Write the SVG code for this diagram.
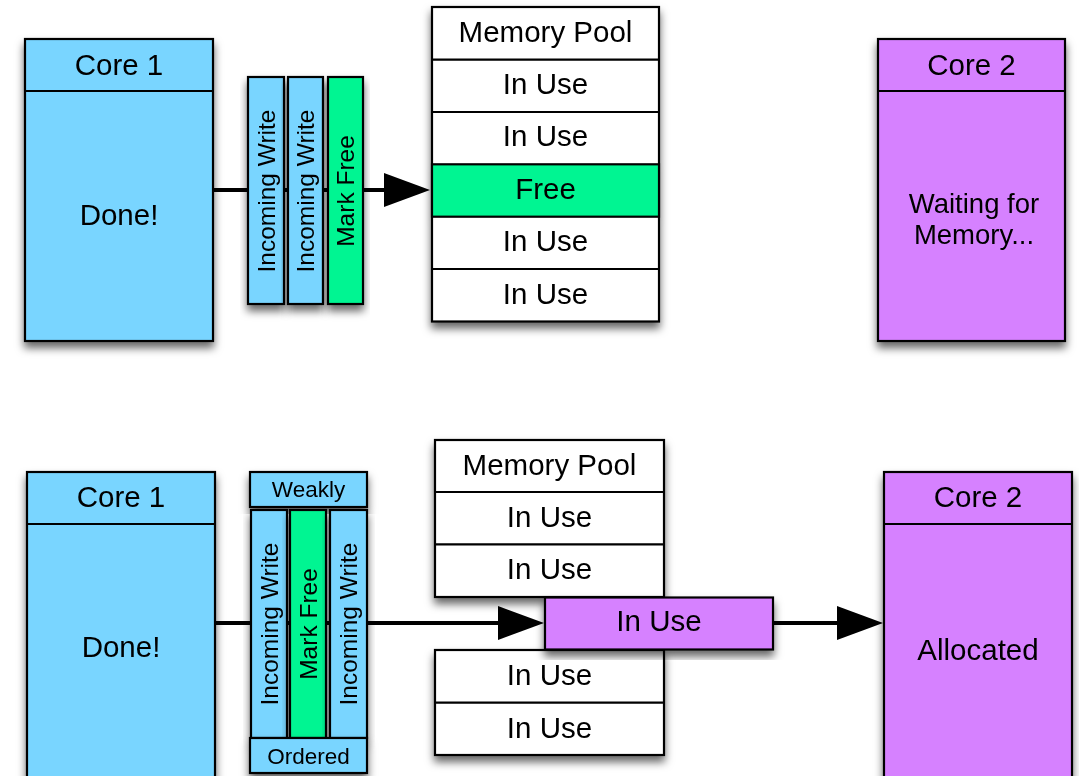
<svg xmlns="http://www.w3.org/2000/svg" width="1079" height="776" viewBox="0 0 1079 776">
  <defs>
    <filter id="shadow" x="-20%" y="-20%" width="140%" height="140%">
      <feDropShadow dx="0" dy="6" stdDeviation="4.5" flood-color="#000" flood-opacity="0.6"/>
    </filter>
    <marker id="arrow" markerUnits="userSpaceOnUse" markerWidth="48" markerHeight="36" refX="0" refY="17" orient="auto">
      <path d="M0,0 L46,17 L0,34 Z" fill="#000"/>
    </marker>
  </defs>
  <style>
    text { font-family: "Liberation Sans", Arial, Helvetica, sans-serif; fill: #000; text-anchor: middle; }
    .big { font-size: 29.5px; }
    .wrap { font-size: 27.5px; }
    .mid { font-size: 24.5px; }
    .small { font-size: 22.5px; }
    .box { stroke: #000; stroke-width: 2.2; }
    .blue { fill: #79D5FF; }
    .green { fill: #00F592; }
    .purple { fill: #D681FF; }
    .white { fill: #FFFFFF; }
    .sep { stroke: #000; stroke-width: 2.2; fill: none; }
    .wire { stroke: #000; stroke-width: 4; fill: none; }
  </style>

  <rect width="1079" height="776" fill="#FFFFFF"/>

  <!-- connectors (drawn beneath the nodes) -->
  <g id="connectors">
    <line class="wire" x1="212" y1="190" x2="384" y2="190" marker-end="url(#arrow)"/>
    <line class="wire" x1="214" y1="623" x2="498" y2="623" marker-end="url(#arrow)"/>
    <line class="wire" x1="773" y1="623" x2="837" y2="623" marker-end="url(#arrow)"/>
  </g>

  <!-- ===== upper scenario ===== -->
  <g id="top-core1" filter="url(#shadow)">
    <rect class="box blue" x="25" y="39" width="188" height="302"/>
    <line class="sep" x1="25" y1="91" x2="213" y2="91"/>
    <text class="big" x="119" y="74.5">Core 1</text>
    <text class="big" x="119" y="225">Done!</text>
  </g>

  <g id="top-write1" filter="url(#shadow)">
    <rect class="box blue" x="248" y="77" width="36" height="227"/>
    <text class="mid" transform="translate(266,191) rotate(-90)" y="8.7">Incoming Write</text>
  </g>
  <g id="top-write2" filter="url(#shadow)">
    <rect class="box blue" x="288" y="77" width="35" height="227"/>
    <text class="mid" transform="translate(305.5,191) rotate(-90)" y="8.7">Incoming Write</text>
  </g>
  <g id="top-markfree" filter="url(#shadow)">
    <rect class="box green" x="328" y="77" width="35" height="227"/>
    <text class="mid" transform="translate(345.5,191) rotate(-90)" y="8.7">Mark Free</text>
  </g>

  <g id="top-pool" filter="url(#shadow)">
    <rect class="box white" x="432" y="7" width="227" height="314.5"/>
    <rect class="box green" x="432" y="164.3" width="227" height="52.4"/>
    <line class="sep" x1="432" y1="59.7" x2="659" y2="59.7"/>
    <line class="sep" x1="432" y1="112" x2="659" y2="112"/>
    <line class="sep" x1="432" y1="269" x2="659" y2="269"/>
    <text class="big" x="545.5" y="42">Memory Pool</text>
    <text class="big" x="545.5" y="93.5">In Use</text>
    <text class="big" x="545.5" y="146">In Use</text>
    <text class="big" x="545.5" y="198.5">Free</text>
    <text class="big" x="545.5" y="251">In Use</text>
    <text class="big" x="545.5" y="303.5">In Use</text>
  </g>

  <g id="top-core2" filter="url(#shadow)">
    <rect class="box purple" x="878" y="39" width="187" height="302"/>
    <line class="sep" x1="878" y1="91" x2="1065" y2="91"/>
    <text class="big" x="971.5" y="74.5">Core 2</text>
    <text class="wrap" x="974" y="213">Waiting for</text>
    <text class="wrap" x="974" y="244">Memory...</text>
  </g>

  <!-- ===== lower scenario ===== -->
  <g id="bottom-core1" filter="url(#shadow)">
    <rect class="box blue" x="27" y="472" width="188" height="308"/>
    <line class="sep" x1="27" y1="524" x2="215" y2="524"/>
    <text class="big" x="121" y="507">Core 1</text>
    <text class="big" x="121" y="657">Done!</text>
  </g>

  <g id="bottom-weakly" filter="url(#shadow)">
    <rect class="box blue" x="250" y="472" width="117" height="35"/>
    <text class="small" x="308.5" y="497">Weakly</text>
  </g>
  <g id="bottom-write1" filter="url(#shadow)">
    <rect class="box blue" x="251" y="510" width="36" height="228"/>
    <text class="mid" transform="translate(269,624) rotate(-90)" y="8.7">Incoming Write</text>
  </g>
  <g id="bottom-markfree" filter="url(#shadow)">
    <rect class="box green" x="290" y="510" width="36" height="228"/>
    <text class="mid" transform="translate(308,624) rotate(-90)" y="8.7">Mark Free</text>
  </g>
  <g id="bottom-write2" filter="url(#shadow)">
    <rect class="box blue" x="330" y="510" width="37" height="228"/>
    <text class="mid" transform="translate(348.5,624) rotate(-90)" y="8.7">Incoming Write</text>
  </g>
  <g id="bottom-ordered" filter="url(#shadow)">
    <rect class="box blue" x="250" y="738" width="117" height="35"/>
    <text class="small" x="308.5" y="763.5">Ordered</text>
  </g>

  <g id="bottom-pool-upper" filter="url(#shadow)">
    <rect class="box white" x="435" y="440" width="229" height="157"/>
    <line class="sep" x1="435" y1="492" x2="664" y2="492"/>
    <line class="sep" x1="435" y1="544.3" x2="664" y2="544.3"/>
    <text class="big" x="549.5" y="474.5">Memory Pool</text>
    <text class="big" x="549.5" y="527">In Use</text>
    <text class="big" x="549.5" y="579">In Use</text>
  </g>
  <g id="bottom-pool-lower" filter="url(#shadow)">
    <rect class="box white" x="435" y="650" width="229" height="105"/>
    <line class="sep" x1="435" y1="702.7" x2="664" y2="702.7"/>
    <text class="big" x="549.5" y="685">In Use</text>
    <text class="big" x="549.5" y="737.5">In Use</text>
  </g>
  <g id="bottom-allocated-block" filter="url(#shadow)">
    <rect class="box purple" x="545" y="597.5" width="228" height="52"/>
    <text class="big" x="659" y="631">In Use</text>
  </g>

  <g id="bottom-core2" filter="url(#shadow)">
    <rect class="box purple" x="884" y="472" width="188" height="308"/>
    <line class="sep" x1="884" y1="524" x2="1072" y2="524"/>
    <text class="big" x="978" y="507">Core 2</text>
    <text class="big" x="978" y="660">Allocated</text>
  </g>
</svg>
